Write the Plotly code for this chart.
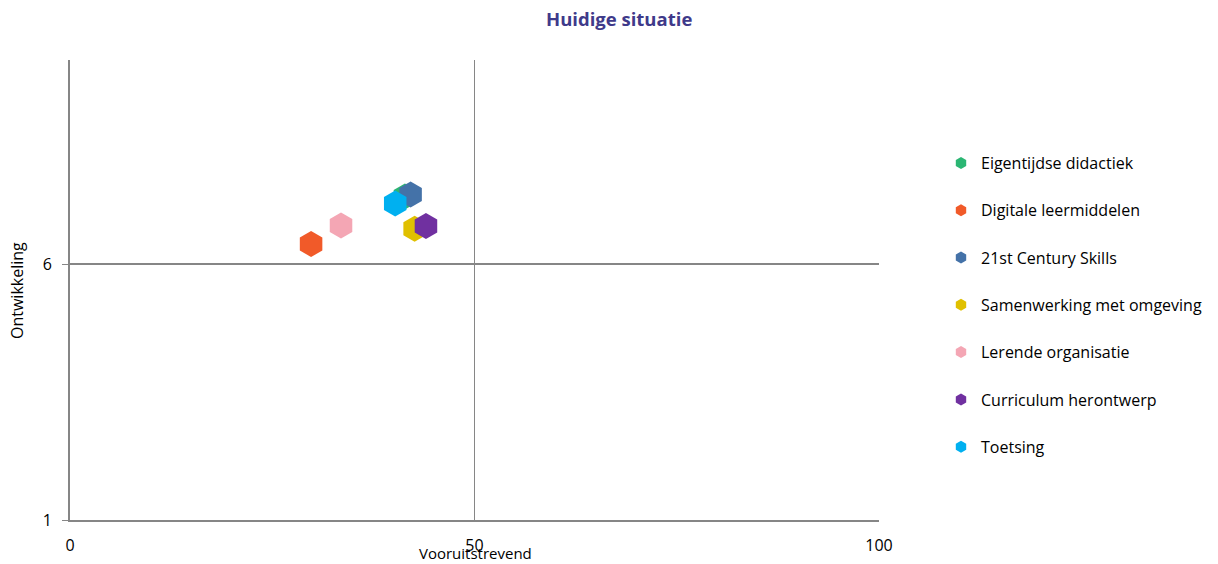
import plotly.graph_objects as go

names = ["Eigentijdse didactiek", "Digitale leermiddelen", "21st Century Skills",
         "Samenwerking met omgeving", "Lerende organisatie", "Curriculum herontwerp", "Toetsing"]
x_vals = [41.4, 29.8, 42.1, 42.6, 33.5, 44.0, 40.2]
y_vals = [7.33, 6.40, 7.37, 6.70, 6.76, 6.75, 7.19]
colors = ["#2BB673", "#F15A29", "#4472A8", "#E0C000", "#F4A6B4", "#7030A0", "#00B0F0"]

x_ticks = [0, 50, 100]
y_ticks = [1, 6]

fig = go.Figure()
for i, n in enumerate(names):
    fig.add_trace(go.Scatter(
        x=[x_vals[i]], y=[y_vals[i]], mode="markers", name=n, legendgroup=n,
        marker=dict(symbol="hexagon", size=26, color=colors[i], line=dict(width=0)),
    ))

W, H = 1218, 564
L, R, T, B = 70, 339, 60, 44
pw, ph = W - L - R, H - T - B

def px(xp):
    return (xp - L) / pw

def py(yp):
    return 1 - (yp - T) / ph

grid = "#868686"
font_family = "Open Sans, sans-serif"
fig.update_layout(
    width=W, height=H,
    margin=dict(l=L, r=R, t=T, b=B, autoexpand=False),
    paper_bgcolor="white", plot_bgcolor="white",
    font=dict(family=font_family, size=16, color="#000000"),
    showlegend=True,
    legend=dict(x=px(941), xanchor="left", y=py(146), yanchor="top", tracegroupgap=23.5,
                itemsizing="constant", font=dict(size=16), bgcolor="rgba(0,0,0,0)"),
    annotations=[
        dict(text="<b>Huidige situatie</b>", xref="paper", yref="paper", x=px(619), y=py(19),
             xanchor="center", yanchor="middle", showarrow=False,
             font=dict(size=18.5, color="#3F3A8A")),
        dict(text="Vooruitstrevend", xref="paper", yref="paper", x=px(475), y=py(553),
             xanchor="center", yanchor="middle", showarrow=False, font=dict(size=15)),
        dict(text="Ontwikkeling", xref="paper", yref="paper", x=px(17), y=py(290),
             xanchor="center", yanchor="middle", showarrow=False, textangle=-90,
             font=dict(size=16)),
    ],
)
fig.update_xaxes(
    range=[0, 100], tickvals=x_ticks, showgrid=True, gridcolor=grid, gridwidth=1,
    zeroline=False, showline=True, linecolor=grid, linewidth=2, ticks="",
    tickfont=dict(size=16), ticklabelstandoff=10, automargin=False, fixedrange=True,
)
fig.update_yaxes(
    range=[1, 10], tickvals=y_ticks, showgrid=True, gridcolor=grid, gridwidth=2,
    zeroline=False, showline=True, linecolor=grid, linewidth=2, ticks="outside", ticklen=6,
    tickcolor=grid, tickfont=dict(size=16), ticklabelstandoff=7, automargin=False,
    fixedrange=True,
)
fig.write_html("out.html", config={"displayModeBar": False},
               post_script="document.body.style.margin='0';document.body.style.padding='0';")
